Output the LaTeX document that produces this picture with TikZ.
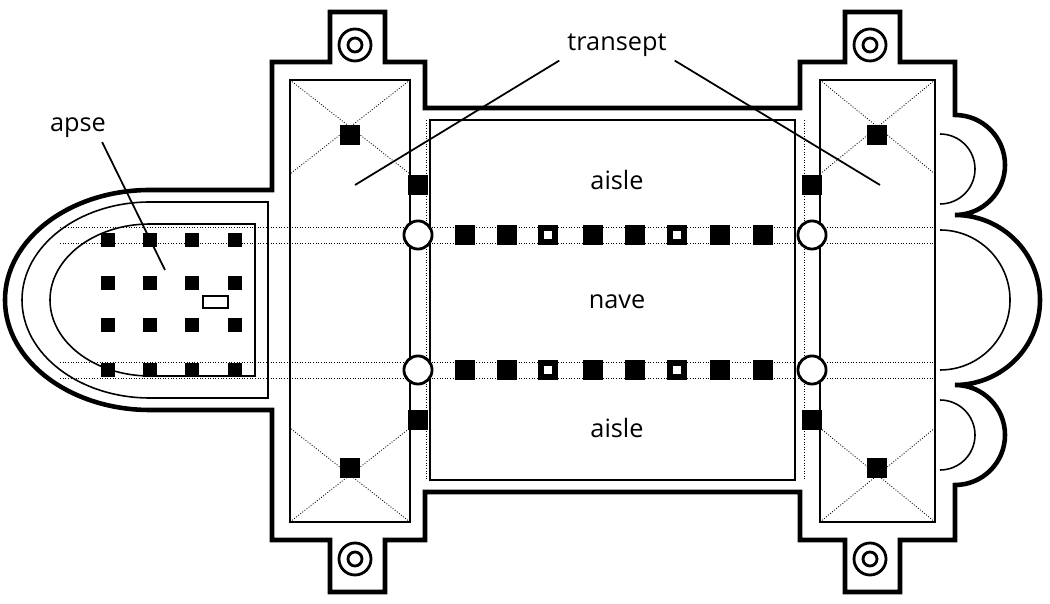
\documentclass[tikz,border=0pt]{standalone}
\usepackage{fontspec}
\setmainfont{Open Sans}
\usetikzlibrary{positioning}
\tikzset{
  wall/.style={line width=2.6pt,line join=miter},
  inner/.style={line width=0.9pt},
  guide/.style={densely dotted,line width=0.5pt},
  pier/.style={fill=black,minimum size=11pt,inner sep=0pt},
  hollowpier/.style={draw,line width=1.6pt,minimum size=9pt,inner sep=0pt},
  lbl/.style={font=\Large},
}
\begin{document}
\begin{tikzpicture}[x=0.02cm,y=0.02cm]
  \useasboundingbox (0,0) rectangle (1050,604);
  % outer walls
  \draw[wall] (150,414) -- (272,414) -- (272,542) -- (330,542) -- (330,592) -- (385,592) -- (385,542)
    -- (425,542) -- (425,496) -- (800,496) -- (800,542) -- (845,542) -- (845,592) -- (900,592)
    -- (900,542) -- (955,542) -- (955,489) arc (90:-90:50) -- (955,389) arc (90:-90:85)
    -- (955,219) arc (90:-90:50) -- (955,64) -- (900,64) -- (900,12) -- (845,12) -- (845,64)
    -- (800,64) -- (800,112) -- (425,112) -- (425,64) -- (385,64) -- (385,12) -- (330,12)
    -- (330,64) -- (272,64) -- (272,194) -- (150,194) arc (-90:-270:145 and 110) -- cycle;
  % inner walls
  \draw[inner] (290,524) rectangle (410,82);
  \draw[inner] (820,524) rectangle (935,82);
  \draw[inner] (430,484) rectangle (795,124);
  \draw[inner] (150,402) -- (268,402) -- (268,206) -- (150,206) arc (-90:-270:128 and 98);
  \draw[inner] (150,380) -- (255,380) -- (255,228) -- (150,228) arc (-90:-270:100 and 76);
  \draw[inner] (940,470) arc (90:-90:35);
  \draw[inner] (940,374) arc (90:-90:70);
  \draw[inner] (940,204) arc (90:-90:35);
  % towers
  \foreach \tx/\ty in {355/559, 870/559, 355/45, 870/45}
    \draw[line width=1.6pt] (\tx,\ty) circle (16) (\tx,\ty) circle (7);
  % dotted lines
  \foreach \gy in {369,234} {
    \draw[guide] (60,\gy+8) -- (935,\gy+8);
    \draw[guide] (60,\gy-8) -- (935,\gy-8);
  }
  \foreach \gx in {418,812} {
    \draw[guide] (\gx-8,484) -- (\gx-8,124);
    \draw[guide] (\gx+8,484) -- (\gx+8,124);
  }
  \draw[guide] (290,524) -- (410,430) (410,524) -- (290,430);
  \draw[guide] (290,82) -- (410,176) (410,82) -- (290,176);
  \draw[guide] (820,524) -- (935,430) (935,524) -- (820,430);
  \draw[guide] (820,82) -- (935,176) (935,82) -- (820,176);
  % apse vault grid
  \foreach \ax in {108,150,192,235}
    \foreach \ay in {364,321,279,234}
      \node[pier,minimum size=8pt] (a\ax\ay) at (\ax,\ay) {};
  \draw[line width=1pt] (203,296) rectangle (228,308);
  % nave piers
  \foreach \px in {465,507,548,593,635,677,720,763} {
    \node[pier] (n\px) at (\px,369) {};
    \node[pier] (s\px) at (\px,234) {};
  }
  \foreach \px in {548,677} {
    \node[fill=white,minimum size=4pt,inner sep=0pt] at (\px,369) {};
    \node[fill=white,minimum size=4pt,inner sep=0pt] at (\px,234) {};
  }
  % crossing piers
  \foreach \cx/\cy in {418/369,812/369,418/234,812/234}
    \node[hollowpier,circle,minimum size=16pt,fill=white] at (\cx,\cy) {};
  \foreach \qx/\qy in {418/419,812/419,418/184,812/184,350/469,877/469,350/136,877/136}
    \node[pier] at (\qx,\qy) {};
  % labels
  \node[lbl] (apse) at (78,476) {apse};
  \node[lbl] (transept) at (617,559) {transept};
  \node[lbl] (aisleN) at (617,424) {aisle};
  \node[lbl] (nave) at (617,302) {nave};
  \node[lbl] (aisleS) at (617,176) {aisle};
  \coordinate (apseEnd) at (165,334);
  \coordinate (trL) at (355,419);
  \coordinate (trR) at (880,419);
  \draw[line width=1pt] (apse.south east) ++(-10,2) -- (apseEnd);
  \draw[line width=1pt] (transept.south west) ++(-2,2) -- (trL);
  \draw[line width=1pt] (transept.south east) ++(2,2) -- (trR);
\end{tikzpicture}
\end{document}
